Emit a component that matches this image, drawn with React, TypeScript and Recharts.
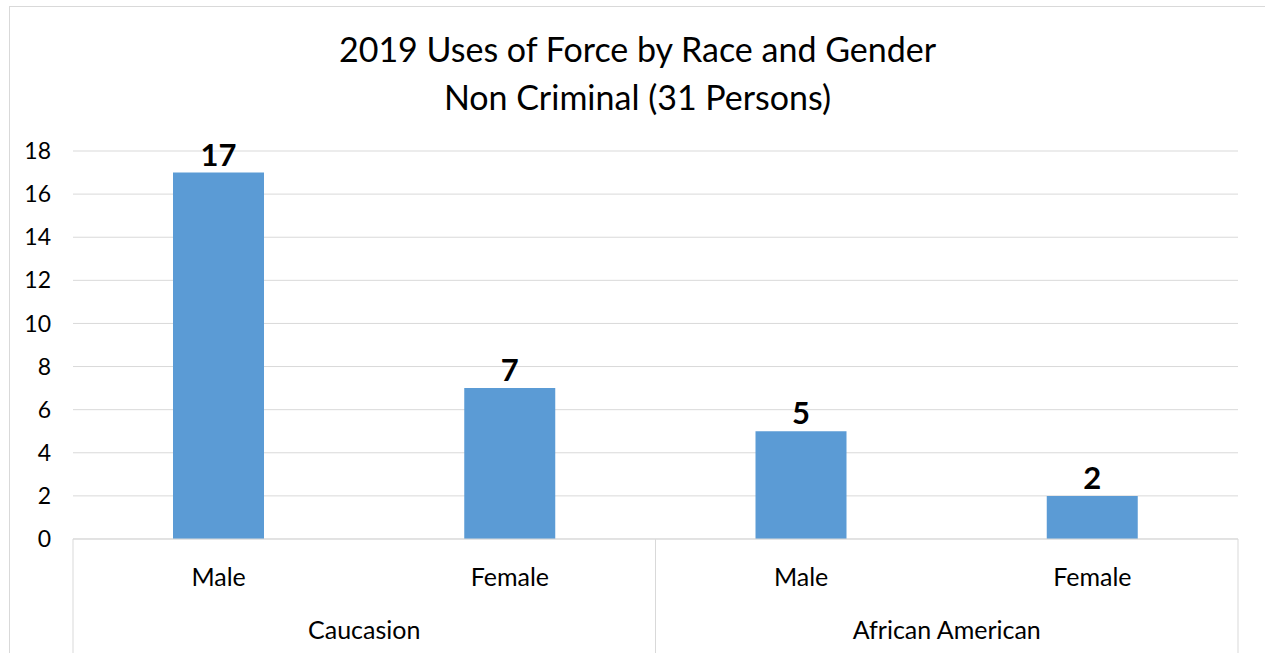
import React from 'react';
import { BarChart, Bar, XAxis, YAxis, CartesianGrid, LabelList } from 'recharts';

const genders = ['Male', 'Female', 'Male', 'Female'];
const races = ['Caucasion', 'Caucasion', 'African American', 'African American'];
const counts = [17, 7, 5, 2];
const yTicks = [0, 2, 4, 6, 8, 10, 12, 14, 16, 18];

const W = 1265;
const H = 653;
const M = { top: 151, right: 27, left: 0, bottom: 0 };
const Y_AXIS_W = 73;
const PLOT_BOTTOM = 539;
const GROUP_HALF = (W - M.right - Y_AXIS_W) / 4;
const FONT = 'Lato, "Open Sans", sans-serif';
const GRID = '#d9d9d9';

const data = genders.map((g, i) => ({ gender: g, race: races[i], count: counts[i] }));

const GenderTick = (props: any) => {
  const { x, y, payload } = props;
  return (
    <text x={x} y={y + 35} textAnchor="middle" dominantBaseline="central" fontSize={25} fontFamily={FONT} fill="#000">
      {payload.value}
    </text>
  );
};

const RaceTick = (props: any) => {
  const { x, y, payload, index } = props;
  return (
    <g>
      {index === 0 && <line x1={x - GROUP_HALF} x2={x - GROUP_HALF} y1={PLOT_BOTTOM} y2={H} stroke={GRID} />}
      <line x1={x + GROUP_HALF} x2={x + GROUP_HALF} y1={PLOT_BOTTOM} y2={H} stroke={GRID} />
      <text x={x} y={y + 34} textAnchor="middle" dominantBaseline="central" fontSize={25} fontFamily={FONT} fill="#000">
        {payload.value}
      </text>
    </g>
  );
};

export default function App() {
  return (
    <div style={{ position: 'absolute', left: 0, top: 0, width: W, height: H, overflow: 'hidden', background: '#fff' }}>
      <div style={{ position: 'absolute', left: 9, top: 6, width: W, height: H, borderLeft: `1px solid ${GRID}`, borderTop: `1px solid ${GRID}` }} />
      <div style={{ position: 'absolute', left: 5, width: W, top: 25, textAlign: 'center', fontFamily: FONT, fontSize: 34, lineHeight: '48px', color: '#000' }}>
        <div>2019 Uses of Force by Race and Gender</div>
        <div>Non Criminal (31 Persons)</div>
      </div>
      <div style={{ position: 'absolute', left: 0, top: 0 }}>
        <BarChart width={W} height={H} data={data} margin={M}>
          <CartesianGrid vertical={false} stroke={GRID} />
          <YAxis
            width={Y_AXIS_W}
            domain={[0, 18]}
            ticks={yTicks}
            axisLine={false}
            tickLine={false}
            tickSize={0}
            tickMargin={22}
            tick={{ fontSize: 23, fontFamily: FONT, fill: '#000' }}
          />
          <XAxis dataKey="gender" height={54} tickLine={false} tickSize={0} axisLine={{ stroke: GRID }} tick={<GenderTick />} interval={0} />
          <XAxis
            xAxisId="race"
            dataKey="race"
            allowDuplicatedCategory={false}
            height={60}
            tickLine={false}
            tickSize={0}
            axisLine={false}
            tick={<RaceTick />}
            interval={0}
          />
          <Bar dataKey="count" fill="#5b9bd5" barSize={91} isAnimationActive={false}>
            <LabelList dataKey="count" position="top" offset={7} fontSize={31} fontWeight="bold" fontFamily={FONT} fill="#000" />
          </Bar>
        </BarChart>
      </div>
    </div>
  );
}
